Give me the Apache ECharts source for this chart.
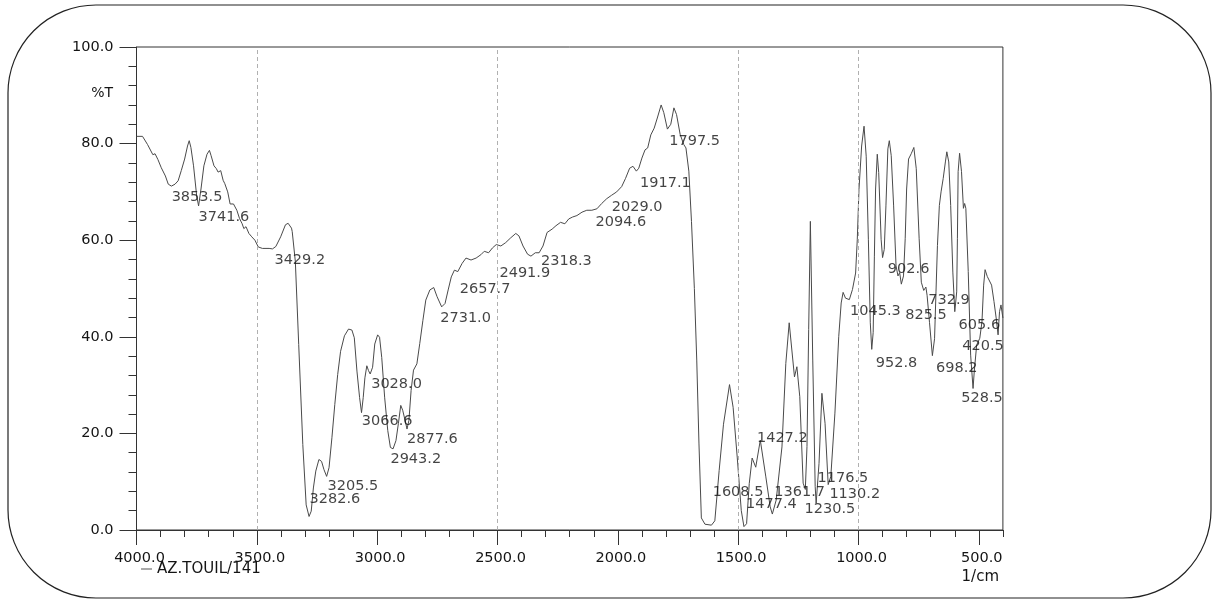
<!DOCTYPE html>
<html>
<head>
<meta charset="utf-8">
<script src="https://cdn.jsdelivr.net/npm/echarts@6/dist/echarts.min.js"></script>
<style>
html,body{margin:0;padding:0;background:#fff;}
#chart{width:1216px;height:601px;}
</style>
</head>
<body>
<div id="chart"></div>
<script>
// ---- Data ----
const wavenumbers = [4000,3975,3954,3932,3923,3911,3897,3880,3868,3855,3840,3827,3814,3800,3788,3781,3774,3763,3750,3742,3732,3720,3707,3697,3690,3678,3668,3661,3650,3640,3633,3621,3611,3597,3583,3572,3561,3554,3545,3533,3521,3508,3494,3477,3449,3435,3421,3401,3381,3370,3356,3353,3340,3326,3309,3295,3283,3274,3265,3255,3242,3231,3221,3210,3200,3188,3176,3164,3152,3136,3119,3105,3095,3084,3073,3065,3058,3051,3043,3036,3029,3019,3010,2998,2990,2981,2969,2956,2945,2934,2922,2912,2902,2894,2884,2876,2868,2859,2849,2835,2823,2810,2798,2781,2765,2751,2732,2718,2705,2692,2679,2665,2647,2631,2610,2589,2569,2555,2537,2521,2505,2486,2466,2445,2424,2411,2394,2375,2361,2343,2327,2311,2294,2273,2257,2238,2220,2204,2188,2170,2149,2129,2108,2087,2067,2046,2026,2005,1984,1968,1951,1937,1923,1913,1900,1887,1876,1863,1849,1836,1820,1809,1794,1780,1767,1756,1741,1726,1717,1705,1694,1682,1672,1663,1653,1638,1611,1597,1579,1561,1536,1521,1504,1487,1476,1465,1454,1442,1427,1408,1385,1367,1358,1342,1318,1302,1288,1266,1256,1244,1230,1221,1214,1207,1200,1190,1180,1176,1164,1152,1139,1126,1115,1098,1082,1072,1064,1054,1038,1025,1012,1005,998,987,977,968,959,951,945,939,934,929,922,916,906,900,893,886,878,872,864,854,844,836,829,822,813,806,800,792,781,770,760,748,739,729,720,715,705,693,684,678,672,664,657,648,639,633,625,617,608,600,592,589,586,580,572,564,559,554,544,534,524,519,509,496,487,480,474,465,458,447,437,428,420,414,408,400];
const transmittance = [81.5,81.5,79.8,77.7,77.9,76.7,75.0,73.3,71.6,71.2,71.6,72.3,74.4,76.8,79.5,80.6,79.2,75.4,69.2,67.1,70.6,75.4,77.8,78.6,77.5,75.4,74.8,74.1,74.4,72.4,71.7,70.0,67.5,67.5,66.2,64.5,63.4,62.4,62.8,61.4,60.7,60.0,58.6,58.3,58.3,58.2,58.7,60.7,63.2,63.5,62.5,61.8,55.6,38.4,17.7,5.2,2.8,3.9,8.7,12.2,14.6,14.2,12.5,11.1,12.9,19.1,26.0,32.2,37.0,40.2,41.6,41.4,39.8,32.9,27.4,24.3,27.4,31.5,34.0,33.0,32.3,33.7,38.5,40.4,39.9,35.7,27.5,20.6,17.1,16.8,18.5,22.0,25.8,24.8,22.7,20.9,22.7,28.9,33.1,34.4,38.6,43.4,47.6,49.7,50.2,48.3,46.2,46.9,49.7,52.4,53.8,53.5,55.2,56.3,55.9,56.3,57.0,57.7,57.4,58.4,59.1,58.8,59.5,60.5,61.4,60.9,58.8,57.1,56.7,57.4,57.4,58.8,61.6,62.3,63.0,63.7,63.4,64.4,64.8,65.1,65.8,66.2,66.2,66.5,67.6,68.6,69.3,70.0,71.1,72.8,74.9,75.3,74.3,74.9,77.0,78.7,79.1,81.8,83.2,85.3,88.0,86.4,83.0,84.0,87.4,86.0,81.9,79.8,79.1,74.3,63.9,50.0,35.0,18.0,2.5,1.2,1.0,1.9,12.3,21.9,30.1,25.4,15.1,4.0,0.7,1.3,9.6,14.9,13.0,18.6,11.0,4.8,3.3,6.2,17.2,34.5,42.9,31.7,33.8,27.6,9.7,8.4,17.3,41.5,63.9,35.0,9.0,5.5,13.8,28.3,22.1,9.4,11.1,24.2,40.1,47.0,49.2,48.0,47.7,49.8,53.2,60.2,70.5,79.5,83.6,77.4,60.2,42.9,37.4,40.9,56.7,70.6,77.8,74.0,60.2,56.4,58.1,67.1,78.9,80.6,77.5,67.1,54.7,52.6,53.3,50.9,52.6,60.3,70.6,76.8,77.9,79.2,74.8,60.3,51.3,49.6,50.3,48.6,43.0,36.1,39.6,49.3,58.9,67.2,70.0,72.8,76.2,78.3,76.2,67.2,53.4,45.2,49.3,60.4,74.2,78.0,74.2,66.6,67.6,66.6,53.5,36.2,29.3,32.8,38.3,39.7,43.1,50.7,53.9,52.5,52.8,50.7,47.3,43.9,40.4,45.2,46.6,43.9];

// Peak annotations (text) and where each annotation sits (layout, in axis units)
const peakLabels = ['3853.5','3741.6','3429.2','3282.6','3205.5','3066.6','3028.0','2943.2','2877.6','2731.0','2657.7','2491.9','2318.3','2094.6','2029.0','1917.1','1797.5','1608.5','1477.4','1427.2','1361.7','1230.5','1176.5','1130.2','1045.3','952.8','902.6','825.5','732.9','698.2','605.6','420.5','528.5'];
const labelAnchorX = [3854,3742,3427,3281,3206,3064,3025,2945,2876,2738,2657,2492,2319,2093,2025,1908,1786,1606,1467,1422,1350,1224,1170,1121,1035,928,878,806,710,678,584,569,573];
const labelAnchorY = [68.8,64.7,55.9,6.3,9.1,22.5,30.1,14.7,18.7,43.8,49.9,53.1,55.7,63.8,66.9,71.8,80.5,7.8,5.3,19.1,7.9,4.3,10.7,7.5,45.3,34.6,54.0,44.5,47.5,33.4,42.4,38.1,27.2];

const xTicks = [4000,3500,3000,2500,2000,1500,1000,500];
const yTicks = [0,20,40,60,80,100];
const dashedGuides = [3500,2500,1500,1000];
const seriesName = 'AZ.TOUIL/141';

const FONT = 'DejaVu Sans';
const TXT = '#141414';
const LINE = '#333';

const chart = echarts.init(document.getElementById('chart'), null, {renderer:'canvas'});
const gridLeft = 136.5, gridTop = 47, gridW = 866.4, gridH = 483;

chart.setOption({
  animation: false,
  backgroundColor: '#ffffff',
  grid: {
    left: gridLeft, top: gridTop, width: gridW, height: gridH,
    show: true, borderColor: LINE, borderWidth: 1, backgroundColor: 'transparent'
  },
  legend: {
    data: [seriesName],
    left: 141, top: 561, padding: 0,
    icon: 'rect', itemWidth: 11, itemHeight: 1, itemGap: 5,
    itemStyle: {color: '#555'},
    textStyle: {fontFamily: FONT, fontSize: 15, color: TXT, lineHeight: 16}
  },
  xAxis: [{
    type: 'value', min: 400, max: 4000, inverse: true,
    axisLine: {show: true, onZero: false, lineStyle: {color: LINE, width: 1}},
    axisTick: {show: true, customValues: xTicks, length: 15, lineStyle: {color: LINE}},
    axisLabel: {show: true, customValues: xTicks, margin: 21, padding: [0,0,0,6],
      formatter: v => Number(v).toFixed(1), fontFamily: FONT, fontSize: 14.5, color: TXT},
    splitLine: {show: false}
  }, {
    type: 'value', min: 400, max: 4000, interval: 100, inverse: true, position: 'bottom', offset: 0,
    axisLine: {show: false}, axisLabel: {show: false},
    axisTick: {show: true, length: 7, lineStyle: {color: LINE}},
    splitLine: {show: false}
  }],
  yAxis: {
    type: 'value', min: 0, max: 100, interval: 20,
    axisLine: {show: true, lineStyle: {color: LINE, width: 1}},
    axisTick: {show: true, length: 17, lineStyle: {color: LINE}},
    minorTick: {show: true, splitNumber: 5, length: 8, lineStyle: {color: LINE}},
    axisLabel: {margin: 23, formatter: v => Number(v).toFixed(1), fontFamily: FONT, fontSize: 14.5, color: TXT},
    splitLine: {show: false}
  },
  series: [{
    name: seriesName,
    type: 'line',
    xAxisIndex: 0,
    data: wavenumbers.map((w, i) => [w, transmittance[i]]),
    showSymbol: false, symbol: 'none',
    smooth: false,
    itemStyle: {color: '#555'},
    lineStyle: {color: '#4a4a4a', width: 1},
    z: 3,
    markLine: {
      silent: true, symbol: 'none', animation: false,
      label: {show: false},
      lineStyle: {type: [4, 3], color: '#b0b0b0', width: 1},
      data: dashedGuides.map(v => ({xAxis: v}))
    }
  }, {
    name: 'peaks',
    type: 'scatter',
    xAxisIndex: 0,
    symbolSize: 0,
    silent: true,
    z: 5,
    data: peakLabels.map((t, i) => [labelAnchorX[i], labelAnchorY[i], t]),
    label: {
      show: true, position: 'right', distance: 0,
      formatter: p => p.data[2],
      fontFamily: FONT, fontSize: 14.5, color: TXT
    }
  }],
  graphic: [
    {type: 'rect', silent: true, z: 0,
     shape: {x: 8, y: 5, width: 1203, height: 593, r: 88},
     style: {fill: 'none', stroke: '#222', lineWidth: 1.2}},
    {type: 'text', silent: true, z: 10,
     style: {text: '%T', x: 113, y: 93, textAlign: 'right', textVerticalAlign: 'middle',
       font: '14px "DejaVu Sans"', fill: TXT}},
    {type: 'text', silent: true, z: 10,
     style: {text: '1/cm', x: 999, y: 577, textAlign: 'right', textVerticalAlign: 'middle',
       font: '15px "DejaVu Sans"', fill: TXT}}
  ]
});
</script>
</body>
</html>
